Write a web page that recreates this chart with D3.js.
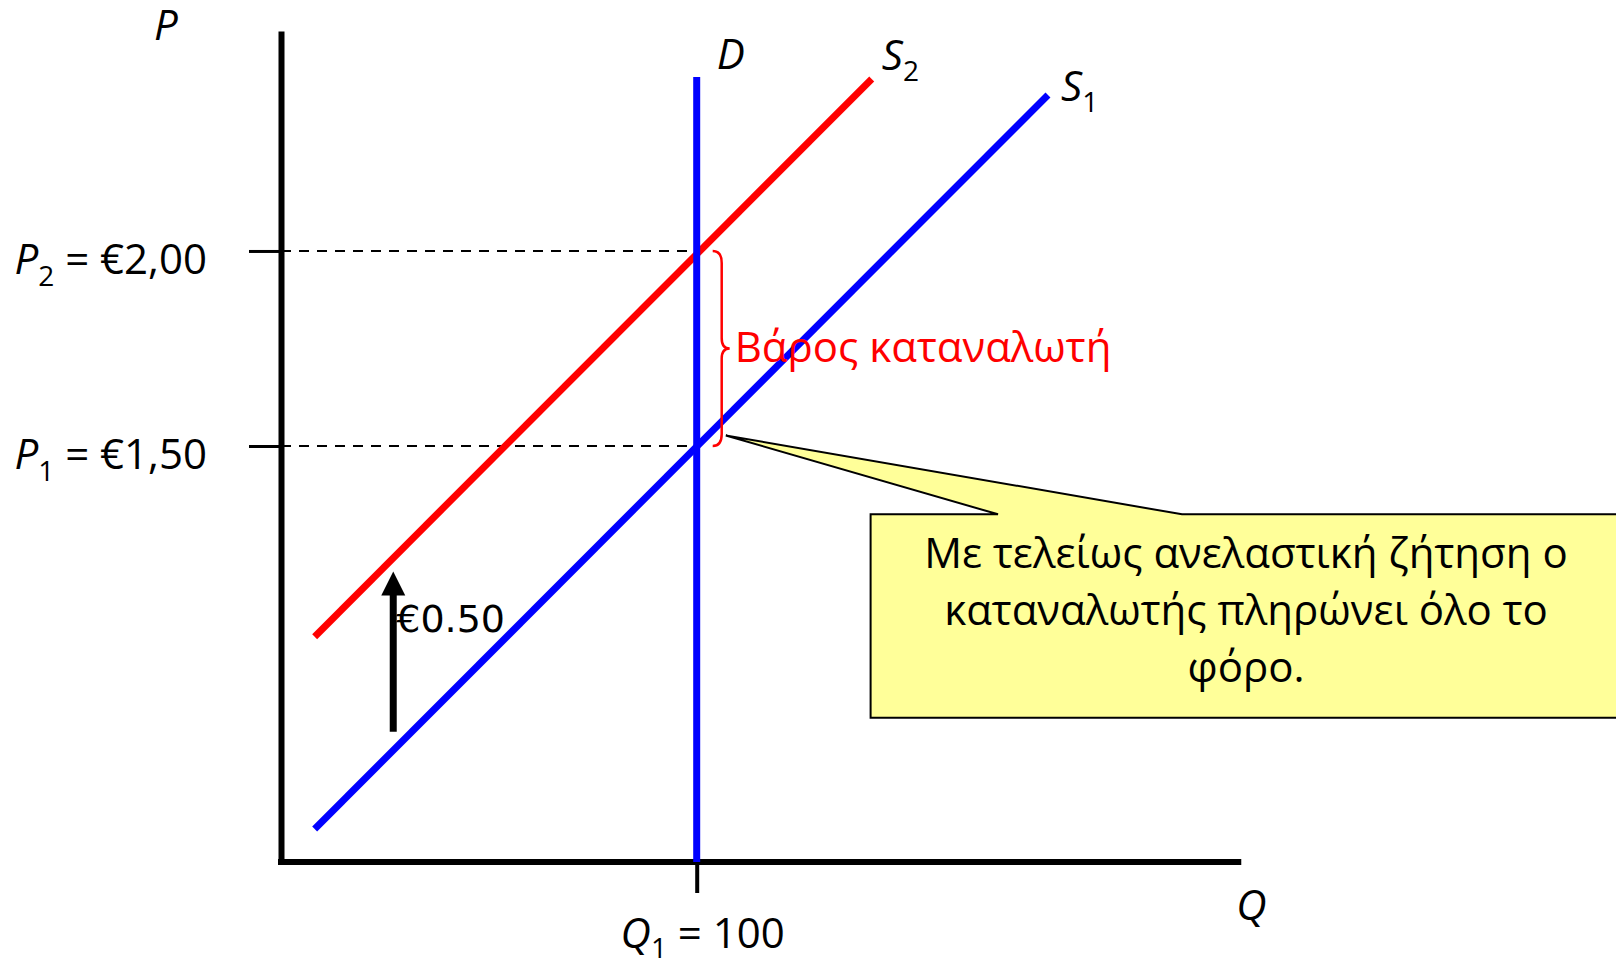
<!DOCTYPE html>
<html>
<head>
<meta charset="utf-8">
<script src="https://cdn.jsdelivr.net/npm/d3@7"></script>
<style>
  html, body { margin: 0; padding: 0; background: #fff; }
  svg { display: block; }
  text { font-family: "Open Sans", "Noto Sans", sans-serif; }
</style>
</head>
<body>
<svg id="chart" width="1616" height="960"></svg>
<script>
// ---------- data ----------
const qDomain = [0, 231];               // quantity axis extent
const pDomain = [0.4333, 2.564];        // price axis extent
const priceTicks = [1.50, 2.00];
const priceTickLabels = [
  { sym: "P", sub: "1", text: " = €1,50" },
  { sym: "P", sub: "2", text: " = €2,00" }
];
const qTicks = [100];
const qTickLabels = [{ sym: "Q", sub: "1", text: " = 100" }];
const demandQ = 100;                    // perfectly inelastic demand
const demandP = [0.4333, 2.446];
const supply1 = [[8.1, 0.518], [184.5, 2.400]];
const supply2 = [[8.1, 1.011], [142.1, 2.441]];
const taxArrow = { q: 27, from: 0.767, to: 1.178, label: "€0.50" };
const burden = { from: 1.50, to: 2.00, label: "Βάρος καταναλωτή" };
const calloutLines = ["Με τελείως ανελαστική ζήτηση ο", "καταναλωτής πληρώνει όλο το", "φόρο."];
const calloutTarget = [107, 1.527];

// ---------- scales ----------
const FS = 42, SUB = 28;
const svg = d3.select("#chart");
const x = d3.scaleLinear().domain(qDomain).range([281, 281 + 231 * 4.157]);
const y = d3.scaleLinear().domain(pDomain).range([862, 31]);
const line = d3.line().x(d => x(d[0])).y(d => y(d[1]));

// ---------- dashed guides ----------
svg.selectAll("line.guide").data(priceTicks).join("line")
  .attr("class", "guide")
  .attr("x1", x(0)).attr("x2", x(demandQ))
  .attr("y1", d => y(d)).attr("y2", d => y(d))
  .attr("stroke", "#000").attr("stroke-width", 2)
  .attr("stroke-dasharray", "10,8");

// ---------- axes ----------
const yAxis = svg.append("g").attr("transform", `translate(${x(0)},0)`)
  .call(d3.axisLeft(y).tickValues(priceTicks).tickSize(32).tickSizeOuter(0).tickFormat(""));
yAxis.select(".domain").attr("stroke", "#000").attr("stroke-width", 6);
yAxis.selectAll(".tick line").attr("stroke", "#000").attr("stroke-width", 3);

const xAxis = svg.append("g").attr("transform", `translate(0,${y(pDomain[0])})`)
  .call(d3.axisBottom(x).tickValues(qTicks).tickSize(31).tickSizeOuter(0).tickFormat(""));
xAxis.select(".domain").attr("stroke", "#000").attr("stroke-width", 6)
  .attr("d", `M${x(0) - 3},0H${x(qDomain[1])}`);
xAxis.selectAll(".tick line").attr("stroke", "#000").attr("stroke-width", 4);

// axis tick labels
priceTicks.forEach((p, i) => {
  const lb = priceTickLabels[i];
  const t = svg.append("text")
    .attr("x", x(0) - 74).attr("y", y(p) + 23)
    .attr("text-anchor", "end").attr("font-size", FS).attr("fill", "#000");
  t.append("tspan").attr("font-style", "italic").text(lb.sym);
  t.append("tspan").attr("font-size", SUB).attr("dy", 12).text(lb.sub);
  t.append("tspan").attr("dy", -12).text(lb.text);
});
qTicks.forEach((q, i) => {
  const lb = qTickLabels[i];
  const t = svg.append("text")
    .attr("x", x(q) + 6).attr("y", y(pDomain[0]) + 86)
    .attr("text-anchor", "middle").attr("font-size", FS).attr("fill", "#000");
  t.append("tspan").attr("font-style", "italic").text(lb.sym);
  t.append("tspan").attr("font-size", SUB).attr("dy", 10).text(lb.sub);
  t.append("tspan").attr("dy", -10).text(lb.text);
});

// axis titles
svg.append("text").attr("x", x(0) - 127).attr("y", 40)
  .attr("font-size", FS).attr("font-style", "italic").text("P");
svg.append("text").attr("x", x(qDomain[1]) - 5).attr("y", y(pDomain[0]) + 58)
  .attr("font-size", FS).attr("font-style", "italic").text("Q");

// ---------- curves ----------
svg.append("path").datum(supply2).attr("d", line)
  .attr("stroke", "#ff0000").attr("stroke-width", 7).attr("fill", "none");
svg.append("path").datum(supply1).attr("d", line)
  .attr("stroke", "#0000ff").attr("stroke-width", 7).attr("fill", "none");
svg.append("path").datum(demandP.map(p => [demandQ, p])).attr("d", line)
  .attr("stroke", "#0000ff").attr("stroke-width", 7).attr("fill", "none");

// curve labels
svg.append("text").attr("x", x(demandQ) + 20).attr("y", y(demandP[1]) - 8)
  .attr("font-size", FS).attr("font-style", "italic").text("D");
function subLabel(px, py, sym, sub) {
  const t = svg.append("text").attr("x", px).attr("y", py).attr("font-size", FS);
  t.append("tspan").attr("font-style", "italic").text(sym);
  t.append("tspan").attr("font-size", SUB).attr("dy", 11).text(sub);
}
subLabel(x(supply2[1][0]) + 10, y(supply2[1][1]) - 9, "S", "2");
subLabel(x(supply1[1][0]) + 13, y(supply1[1][1]) + 6, "S", "1");

// ---------- tax arrow ----------
const ax = x(taxArrow.q), ay0 = y(taxArrow.from), ay1 = y(taxArrow.to);
svg.append("line").attr("x1", ax).attr("x2", ax).attr("y1", ay0).attr("y2", ay1 + 20)
  .attr("stroke", "#000").attr("stroke-width", 7);
svg.append("path")
  .attr("d", `M${ax},${ay1}L${ax - 12},${ay1 + 24}L${ax + 12},${ay1 + 24}Z`)
  .attr("fill", "#000");
svg.append("text").attr("x", ax + 3).attr("y", ay0 - 100)
  .style("font-family", "'DejaVu Sans', sans-serif")
  .attr("font-size", 38).attr("fill", "#000").text(taxArrow.label);

// ---------- burden brace ----------
const bx = x(demandQ) + 16, bt = y(burden.to), bb = y(burden.from), bm = (bt + bb) / 2;
svg.append("path")
  .attr("d", `M${bx},${bt} Q${bx + 9},${bt} ${bx + 9},${bt + 12} L${bx + 9},${bm - 10} Q${bx + 9},${bm} ${bx + 17},${bm}`
    + ` Q${bx + 9},${bm} ${bx + 9},${bm + 10} L${bx + 9},${bb - 12} Q${bx + 9},${bb} ${bx},${bb}`)
  .attr("fill", "none").attr("stroke", "#ff0000").attr("stroke-width", 2.5);
svg.append("text").attr("x", bx + 22).attr("y", bm + 14)
  .attr("font-size", FS).attr("fill", "#ff0000").text(burden.label);

// ---------- callout ----------
const cL = 870.6, cT = 514.3, cB = 717.7, cR = 1640;
const tx = x(calloutTarget[0]), ty = y(calloutTarget[1]);
svg.append("path")
  .attr("d", `M${cL},${cT} L998,${cT} L${tx},${ty} L1182,${cT} L${cR},${cT} L${cR},${cB} L${cL},${cB} Z`)
  .attr("fill", "#ffff99").attr("stroke", "#000").attr("stroke-width", 2);
svg.append("g").selectAll("text").data(calloutLines).join("text")
  .attr("x", 1246).attr("y", (d, i) => 568 + i * 57)
  .attr("text-anchor", "middle").attr("font-size", FS).attr("fill", "#000")
  .text(d => d);
</script>
</body>
</html>
